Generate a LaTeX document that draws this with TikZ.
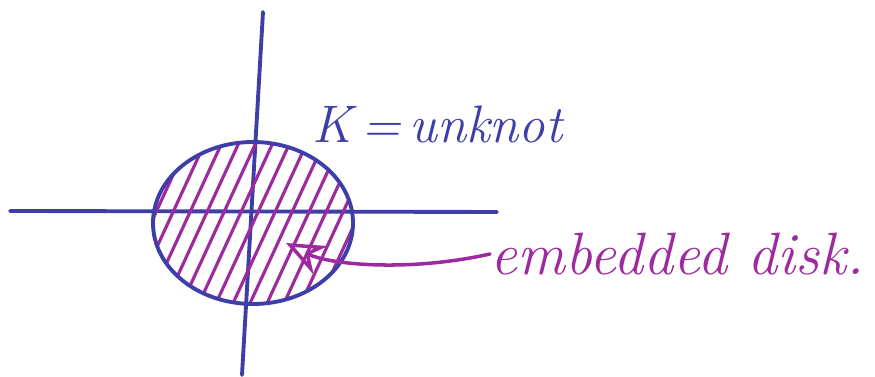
\documentclass[tikz,border=0pt]{standalone}
\usetikzlibrary{arrows.meta}
\definecolor{penblue}{RGB}{62,62,168}
\definecolor{penpurple}{RGB}{158,42,160}
\begin{document}
\begin{tikzpicture}[x=0.01cm, y=-0.01cm, line cap=round,
    pen/.style={penblue, line width=1.1pt},
    hatch/.style={penpurple, line width=0.9pt},
    label/.style={font=\itshape\fontsize{17}{20}\selectfont, inner sep=0pt}]
    \useasboundingbox (0,0) rectangle (875,377);

    % Axes
    \draw[pen] (10,211) -- (497,212);
    \draw[pen] (263,12) -- (242,375);

    % Hatching of the disk
    \begin{scope}
        \clip (253,223) ellipse (100 and 81);
        \foreach \i in {-8,...,8}
            \draw[hatch] ({253+\i*17-70},{223+152}) -- ({253+\i*17+70},{223-152});
    \end{scope}

    % The knot
    \draw[pen] (253,223) ellipse (100 and 81);
    \coordinate (tip) at (286,243);

    % Labels
    \node[label, penblue, anchor=west, font=\itshape\fontsize{15}{18}\selectfont]
        (knot) at (312,124) {K\,=\,unknot};
    \node[label, penpurple, anchor=west] (disk) at (490,254) {embedded disk.};

    % Arrow to the disk
    \draw[penpurple, line width=1pt, -{Stealth[open, length=11pt, width=9pt]}]
        (disk.west) .. controls (410,272) and (330,265) .. (tip);
\end{tikzpicture}
\end{document}
